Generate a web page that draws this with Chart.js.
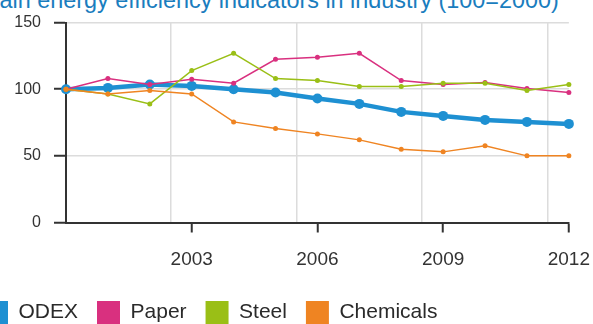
<!DOCTYPE html>
<html lang="en">
<head>
    <meta charset="UTF-8">
    <title>Energy efficiency indicators in industry</title>
    <script src="https://cdn.jsdelivr.net/npm/chart.js"></script>
    <style>
        body {
            margin: 0;
            width: 593px;
            height: 324px;
            overflow: hidden;
            position: relative;
            background: #fff;
            font-family: "Liberation Sans", Arial, sans-serif;
        }

        .title {
            position: absolute;
            left: -20px;
            top: -11px;
            font-size: 23.4px;
            line-height: 23px;
            color: #1a7dbe;
            white-space: nowrap;
        }

        .chart-box {
            position: absolute;
            left: -34px;
            top: 0;
            width: 640px;
            height: 334px;
        }
    </style>
</head>
<body>
    <div class="title">Main energy efficiency indicators in industry (100=2000)</div>
    <div class="chart-box">
        <canvas id="chart"></canvas>
    </div>

    <script>
        // values (index 100 = 2000)
        const years = [2000, 2001, 2002, 2003, 2004, 2005, 2006, 2007, 2008, 2009, 2010, 2011, 2012];
        const odex = [100, 101, 103.5, 102.5, 100, 97.5, 93, 89, 83, 80, 77, 75.5, 74];
        const paper = [100, 108, 103.5, 107.5, 104.5, 122.5, 124, 127, 106.5, 103.5, 105, 100.5, 97.5];
        const steel = [100, 96.5, 89, 114, 127, 108, 106.5, 102, 102, 104.5, 104.5, 99, 103.5];
        const chemicals = [100, 96.5, 99, 96.5, 75.5, 70.5, 66.5, 62, 55, 53, 57.5, 50, 50];

        const xTicks = [2003, 2006, 2009, 2012];
        const xGrid = [2002.5, 2005.5, 2008.5, 2011.5];
        const yTicks = [0, 50, 100, 150];

        const toPoints = vals => years.map((yr, i) => ({ x: yr, y: vals[i] }));

        function series(label, vals, color, width, radius, order) {
            return {
                label: label,
                data: toPoints(vals),
                borderColor: color,
                backgroundColor: color,
                borderWidth: width,
                pointRadius: radius,
                pointBorderWidth: 0,
                pointBackgroundColor: color,
                tension: 0,
                clip: false,
                order: order
            };
        }

        const ctx = document.getElementById('chart').getContext('2d');
        const chart = new Chart(ctx, {
            type: 'line',
            data: {
                datasets: [
                    series('ODEX', odex, '#1e90d2', 4.5, 5, 3),
                    series('Paper', paper, '#d9307f', 1.5, 2.5, 2),
                    series('Steel', steel, '#9abf16', 1.5, 2.5, 1),
                    series('Chemicals', chemicals, '#ef8422', 1.5, 2.5, 0)
                ]
            },
            options: {
                responsive: true,
                maintainAspectRatio: false,
                animation: false,
                layout: {
                    padding: { left: 0, right: 35, top: 18, bottom: 0 }
                },
                scales: {
                    x: {
                        type: 'linear',
                        min: 2000,
                        max: 2012,
                        afterBuildTicks: s => {
                            s.ticks = xGrid.concat(xTicks).sort((a, b) => a - b).map(v => ({ value: v }));
                        },
                        afterFit: s => { s.height = 59.5; },
                        grid: {
                            color: c => (c.tick && c.tick.value % 1) ? '#dcdcdc' : 'rgba(0,0,0,0)',
                            tickColor: c => (c.tick && c.tick.value % 1) ? 'rgba(0,0,0,0)' : '#333',
                            tickLength: 10,
                            lineWidth: 1.5,
                            tickWidth: 2
                        },
                        border: { color: '#333', width: 2 },
                        ticks: {
                            autoSkip: false,
                            maxRotation: 0,
                            padding: 16,
                            color: '#333',
                            font: { family: 'Liberation Sans', size: 19 },
                            callback: v => (v % 1) ? '' : String(v)
                        }
                    },
                    y: {
                        min: 0,
                        max: 150,
                        afterBuildTicks: s => {
                            s.ticks = yTicks.map(v => ({ value: v }));
                        },
                        afterFit: s => { s.width = 100; },
                        grid: {
                            color: '#dcdcdc',
                            tickColor: '#333',
                            tickLength: 12,
                            lineWidth: 1.5,
                            tickWidth: 2
                        },
                        border: { color: '#333', width: 2 },
                        ticks: {
                            padding: 13,
                            color: '#333',
                            font: { family: 'Liberation Sans', size: 16 }
                        }
                    }
                },
                plugins: {
                    legend: {
                        position: 'bottom',
                        align: 'start',
                        labels: {
                            boxWidth: 23,
                            boxHeight: 23,
                            padding: 19,
                            color: '#2a2a2a',
                            font: { family: 'Liberation Sans', size: 21 },
                            sort: (a, b) => a.datasetIndex - b.datasetIndex,
                            generateLabels: c => Chart.defaults.plugins.legend.labels.generateLabels(c)
                                .map(l => Object.assign(l, { lineWidth: 0 }))
                        }
                    },
                    tooltip: { enabled: false }
                }
            }
        });
    </script>
</body>
</html>
